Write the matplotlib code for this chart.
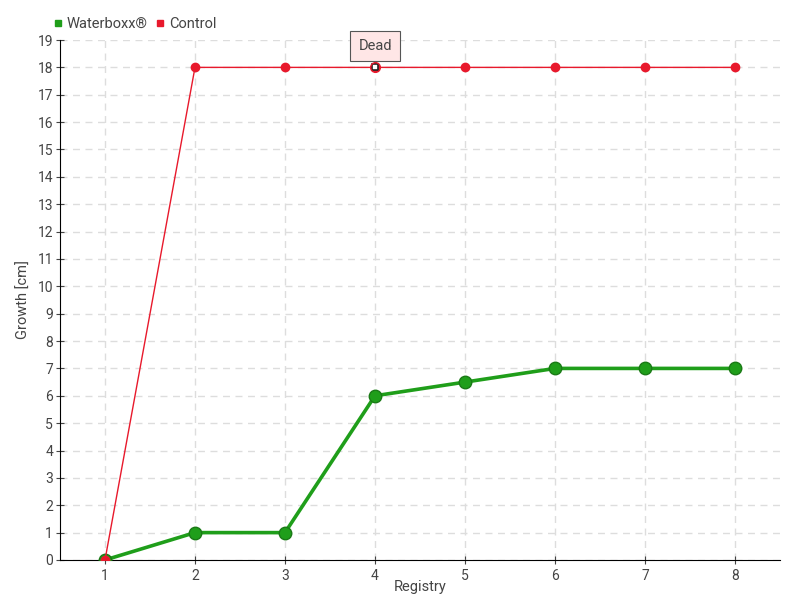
import numpy as np
import matplotlib.pyplot as plt
from matplotlib.lines import Line2D

registry = [1, 2, 3, 4, 5, 6, 7, 8]
waterboxx = [0, 1, 1, 6, 6.5, 7, 7, 7]
control = [0, 18, 18, 18, 18, 18, 18, 18]
dead_idx = 3  # "Dead" label on registry 4

green = '#1f9e1a'
red = '#e8192c'
txt = '#444444'

plt.rcParams['font.family'] = ['Roboto', 'DejaVu Sans']

fig = plt.figure(figsize=(8, 6), dpi=100)
ax = fig.add_axes([0.075, 0.0667, 0.9, 0.8666])

ax.plot(registry, waterboxx, color=green, lw=2.6, marker='o', ms=9,
        mfc=green, mec='#1a7a16', mew=1, zorder=3)
ax.plot(registry, control, color=red, lw=1, marker='o', ms=6,
        mfc=red, mec=red, zorder=4)
# dead marker
ax.plot(registry[dead_idx], control[dead_idx], marker='s', ms=4,
        mfc='white', mec='#222222', mew=1.2, zorder=5)
ax.plot(registry[dead_idx], control[dead_idx], marker='o', ms=7,
        mfc='none', mec=red, mew=1, zorder=5)
ax.annotate('Dead', (registry[dead_idx], control[dead_idx]), xytext=(0, 15.5),
            textcoords='offset points', ha='center', va='center', fontsize=10.5,
            color=txt,
            bbox=dict(boxstyle='square,pad=0.55', fc='#ffe6e6', ec='#555555', lw=0.8),
            zorder=6)

ax.set_xlim(0.5, 8.5)
ax.set_ylim(0, 19)
ax.set_xticks(registry)
ax.set_yticks(range(0, 20))
ax.tick_params(colors=txt, labelsize=10)
ax.tick_params(axis='y', direction='inout', length=6, pad=2)
ax.tick_params(axis='x', direction='inout', length=6)
ax.grid(True, color='#dddddd', ls=(0, (5, 4)), lw=1)
ax.set_axisbelow(True)
for s in ['top', 'right']:
    ax.spines[s].set_visible(False)
ax.spines['left'].set_color('black')
ax.spines['bottom'].set_color('black')

ax.set_xlabel('Registry', color=txt, fontsize=10.5)
ax.set_ylabel('Growth [cm]', color=txt, fontsize=10.5)
ax.yaxis.set_label_coords(-0.04, 0.5)
ax.xaxis.set_label_coords(0.5, -0.038)

handles = [Line2D([], [], ls='none', marker='s', ms=5, color=green),
           Line2D([], [], ls='none', marker='s', ms=5, color=red)]
fig.legend(handles, ['Waterboxx®', 'Control'], loc='upper left',
           bbox_to_anchor=(0.05, 0.993), ncol=2, frameon=False, fontsize=10.5,
           handlelength=0.6, handletextpad=0.3, columnspacing=0.6, labelcolor=txt)

fig.savefig('out.png', dpi=100)
